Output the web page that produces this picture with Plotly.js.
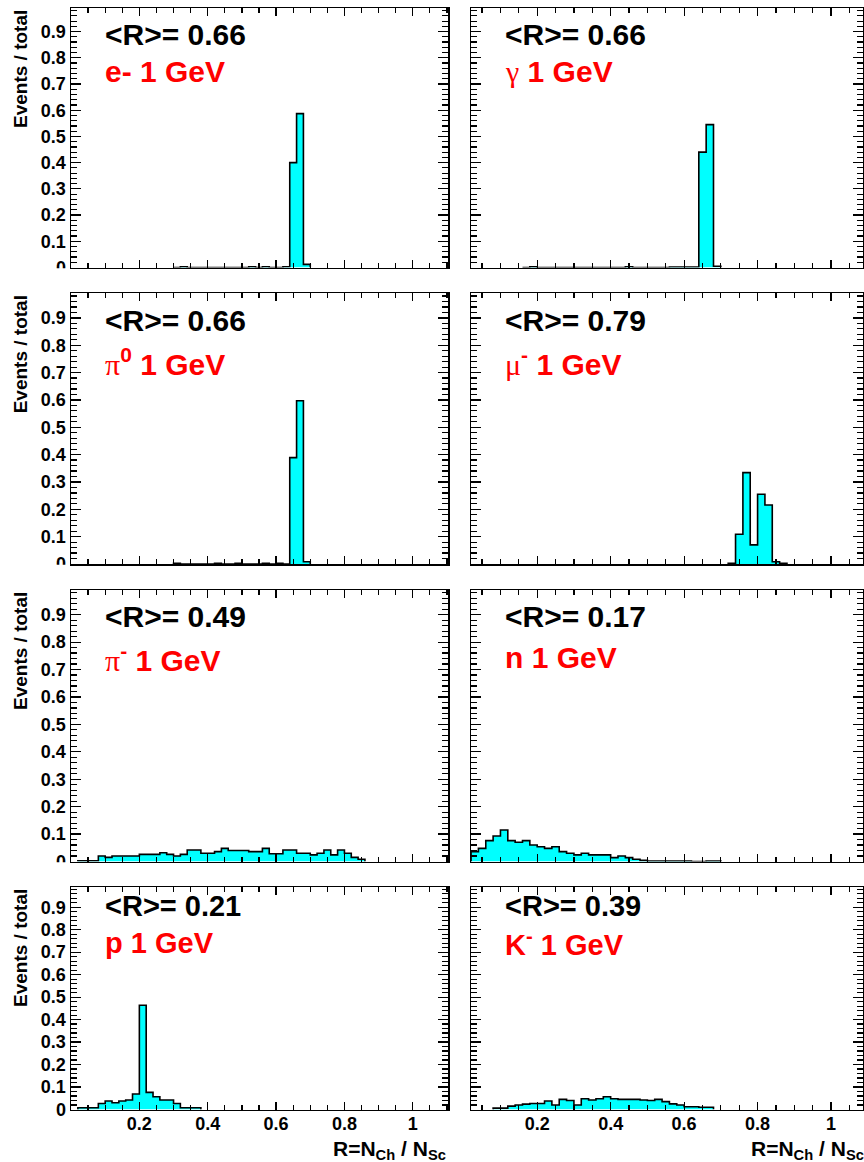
<!DOCTYPE html>
<html>
<head>
<meta charset="utf-8">
<script src="https://cdn.plot.ly/plotly-3.0.1.min.js"></script>
<style>html,body{margin:0;padding:0;background:#fff;}</style>
</head>
<body>
<div id="chart" style="width:864px;height:1162px;"></div>
<script>
// ---------------- DATA ----------------
const binWidth = 0.02;
const panelOrder = ["e-", "gamma", "pi0", "muMinus", "piMinus", "neutron", "proton", "kMinus"];
const particleLabels = [
  "e- 1 GeV",
  "<span style='font-family:Liberation Serif;font-weight:normal'>γ</span> 1 GeV",
  "<span style='font-family:Liberation Serif;font-weight:normal'>π</span><sup>0</sup> 1 GeV",
  "<span style='font-family:Liberation Serif;font-weight:normal'>μ</span><sup>-</sup> 1 GeV",
  "<span style='font-family:Liberation Serif;font-weight:normal'>π</span><sup>-</sup> 1 GeV",
  "n 1 GeV",
  "p 1 GeV",
  "K<sup>-</sup> 1 GeV"
];
const meanR = [0.66, 0.66, 0.66, 0.79, 0.49, 0.17, 0.21, 0.39];

const eMinusStart = 0.30;
const eMinusValues = [0, 0.003, 0, 0, 0, 0, 0, 0, 0, 0, 0, 0.003, 0, 0.003, 0, 0, 0.003, 0.400, 0.587, 0.012];

const gammaStart = 0.16;
const gammaValues = [0, 0.003, 0, 0, 0, 0, 0, 0, 0, 0, 0, 0, 0, 0, 0.003, 0, 0, 0, 0, 0, 0.002, 0.002, 0.002, 0.002, 0.440, 0.545, 0.005];

const pi0Start = 0.30;
const pi0Values = [0.003, 0, 0, 0, 0, 0, 0.003, 0, 0, 0.003, 0, 0, 0, 0.003, 0, 0.003, 0, 0.389, 0.597, 0.008];

const muMinusStart = 0.72;
const muMinusValues = [0.003, 0.109, 0.334, 0.070, 0.255, 0.216, 0.008, 0.003];

const piMinusStart = 0.02;
const piMinusValues = [0.003, 0.003, 0.003, 0.020, 0.015, 0.020, 0.020, 0.020, 0.020, 0.026, 0.026, 0.026, 0.032, 0.026,
  0.020, 0.026, 0.042, 0.042, 0.030, 0.030, 0.036, 0.048, 0.040, 0.040, 0.040, 0.036, 0.036, 0.048, 0.028, 0.028,
  0.042, 0.042, 0.030, 0.030, 0.024, 0.030, 0.042, 0.024, 0.042, 0.030, 0.015, 0.008];

const neutronStart = 0.02;
const neutronValues = [0.036, 0.048, 0.076, 0.093, 0.115, 0.076, 0.070, 0.076, 0.060, 0.054, 0.048, 0.054, 0.036, 0.030,
  0.024, 0.030, 0.024, 0.024, 0.024, 0.014, 0.020, 0.014, 0.008, 0.004, 0.002, 0.002, 0.002, 0.002, 0.002, 0.002,
  0, 0, 0.002, 0.002];

const protonStart = 0.02;
const protonValues = [0.008, 0.008, 0.008, 0.027, 0.038, 0.030, 0.038, 0.042, 0.069, 0.464, 0.076, 0.057, 0.042, 0.042,
  0.027, 0.008, 0.008, 0.008];

const kMinusStart = 0.08;
const kMinusValues = [0.006, 0.006, 0.015, 0.020, 0.024, 0.027, 0.027, 0.038, 0.020, 0.045, 0.040, 0.020, 0.048, 0.042,
  0.048, 0.057, 0.048, 0.045, 0.045, 0.045, 0.042, 0.040, 0.045, 0.035, 0.025, 0.020, 0.012, 0.012, 0.010, 0.010];

const xTickVals = [0.2, 0.4, 0.6, 0.8, 1.0];
const xTickText = ["0.2", "0.4", "0.6", "0.8", "1"];
const yTitle = "Events / total";
const xTitle = "R=N<sub>Ch</sub> / N<sub>Sc</sub>";

const histStarts = [eMinusStart, gammaStart, pi0Start, muMinusStart, piMinusStart, neutronStart, protonStart, kMinusStart];
const histValues = [eMinusValues, gammaValues, pi0Values, muMinusValues, piMinusValues, neutronValues, protonValues, kMinusValues];

// ---------------- LAYOUT ----------------
const W = 864, H = 1162;
const colLeft = [71, 471], colRight = [448, 863];
const colRange = [[0, 1.103], [0.0198, 1.087]];
const rowTop = [8, 293.3, 590, 887], rowBottom = [267.5, 564, 861.5, 1109.5];
const meanOff = [26, 27.5, 26, 18.5], labelOff = [64, 68.5, 67.5, 55.5];
const annSize = [30, 30, 30, 29];
const yMax = 0.99;

const boldFont = (size, color) => ({family: "Liberation Sans, Arial, sans-serif", size: size, color: color || "#000", weight: "bold"});

function stepXY(start, values) {
  const xs = [start], ys = [0];
  values.forEach((v, i) => { xs.push(start + i * binWidth); ys.push(v); });
  xs.push(start + values.length * binWidth); ys.push(0);
  return {xs, ys};
}

const traces = [];
const layout = {
  width: W, height: H,
  margin: {l: 0, r: 0, t: 0, b: 0},
  paper_bgcolor: "#fff", plot_bgcolor: "#fff",
  showlegend: false,
  annotations: [], shapes: []
};

for (let i = 0; i < 8; i++) {
  const row = Math.floor(i / 2), col = i % 2;
  const n = i + 1;
  const xa = "xaxis" + (n === 1 ? "" : n), ya = "yaxis" + (n === 1 ? "" : n);
  const xr = "x" + (n === 1 ? "" : n), yr = "y" + (n === 1 ? "" : n);
  const s = stepXY(histStarts[i], histValues[i]);
  traces.push({
    type: "scatter", mode: "lines", x: s.xs, y: s.ys, xaxis: xr, yaxis: yr,
    line: {shape: "hv", color: "#000", width: 1.6},
    fill: "tozeroy", fillcolor: "#00ffff", hoverinfo: "skip"
  });
  layout[xa] = {
    domain: [colLeft[col] / W, colRight[col] / W],
    range: colRange[col], anchor: yr,
    showgrid: false, zeroline: false,
    showline: true, linecolor: "#000", linewidth: 1.5, mirror: "allticks",
    ticks: "inside", ticklen: 8, tickwidth: 1.2, tickcolor: "#000",
    tickmode: "array", tickvals: xTickVals, ticktext: xTickText,
    showticklabels: row === 3, tickfont: boldFont(18), ticklabelstandoff: -3,
    minor: {tickmode: "linear", tick0: 0, dtick: 0.05, ticks: "inside", ticklen: 5, tickwidth: 1.2, tickcolor: "#000", showgrid: false}
  };
  layout[ya] = {
    domain: [1 - rowBottom[row] / H, 1 - rowTop[row] / H],
    range: [0, yMax], anchor: xr,
    showgrid: false, zeroline: false,
    showline: true, linecolor: "#000", linewidth: 1.5, mirror: "allticks",
    ticks: "inside", ticklen: 10, tickwidth: 1.2, tickcolor: "#000",
    tickmode: "linear", tick0: 0, dtick: 0.1,
    showticklabels: col === 0, tickfont: boldFont(18),
    minor: {tickmode: "linear", tick0: 0, dtick: 0.02, ticks: "inside", ticklen: 6, tickwidth: 1.2, tickcolor: "#000", showgrid: false}
  };
  const x0 = (colLeft[col] + 32) / W;
  layout.annotations.push({
    xref: "paper", yref: "paper", x: x0, y: 1 - (rowTop[row] + meanOff[row]) / H,
    xanchor: "left", yanchor: "middle", showarrow: false,
    text: "&lt;R&gt;= " + meanR[i].toFixed(2), font: boldFont(annSize[row])
  });
  layout.annotations.push({
    xref: "paper", yref: "paper", x: x0, y: 1 - (rowTop[row] + labelOff[row]) / H,
    xanchor: "left", yanchor: "middle", showarrow: false,
    text: particleLabels[i], font: boldFont(annSize[row], "#ff0000")
  });
  if (col === 0) {
    layout.annotations.push({
      xref: "paper", yref: "paper", x: 20 / W, y: 1 - rowTop[row] / H,
      xanchor: "center", yanchor: "top", textangle: -90, showarrow: false,
      text: yTitle, font: boldFont(19)
    });
    if (row < 3) {
      layout.shapes.push({
        type: "rect", xref: "paper", yref: "paper", layer: "above",
        x0: 0, x1: 69.5 / W, y0: 1 - (rowTop[row + 1] - 2) / H, y1: 1 - (rowBottom[row] + 0.8) / H,
        fillcolor: "#fff", line: {width: 0}
      });
    }
  }
  if (row === 3) {
    layout.annotations.push({
      xref: "paper", yref: "paper", x: (colRight[col] + (col === 1 ? 3 : 0)) / W, y: 1 - 1150 / H,
      xanchor: "right", yanchor: "middle", showarrow: false,
      text: xTitle, font: boldFont(21)
    });
  }
}

Plotly.newPlot("chart", traces, layout, {staticPlot: true, displayModeBar: false});
</script>
</body>
</html>
